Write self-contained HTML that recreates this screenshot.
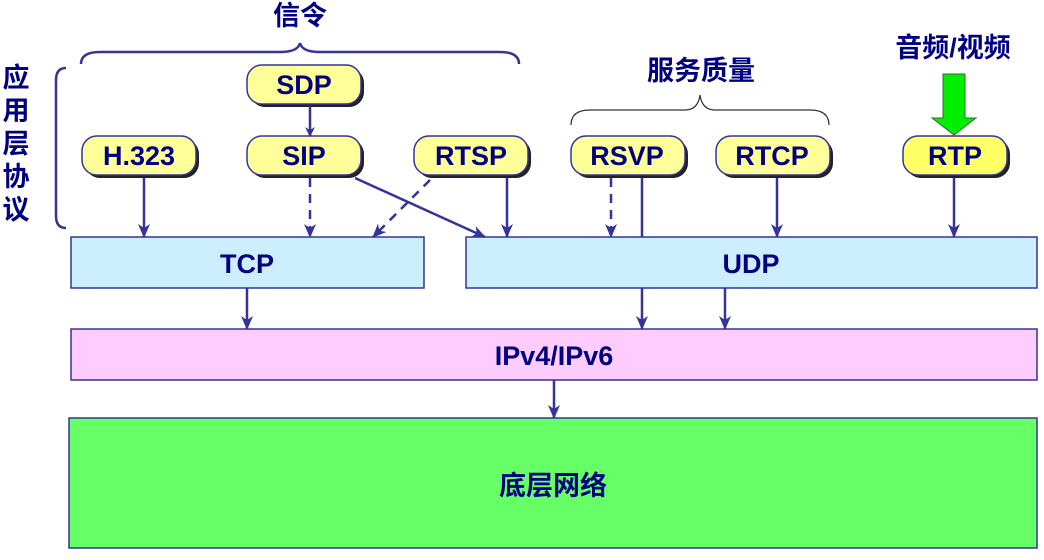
<!DOCTYPE html>
<html><head><meta charset="utf-8"><style>
html,body{margin:0;padding:0;background:#fff}
svg text{font-family:"Liberation Sans","Noto Sans CJK SC",sans-serif;font-weight:bold;fill:#000080}
</style></head><body>
<svg width="1044" height="555" viewBox="0 0 1044 555" xmlns="http://www.w3.org/2000/svg">
<defs>
<marker id="a" markerWidth="10" markerHeight="10" refX="9" refY="5" orient="auto" markerUnits="userSpaceOnUse"><path d="M0,0 L10,5 L0,10 L3,5 z" fill="#333399"/></marker>
<marker id="b" markerWidth="14" markerHeight="14" refX="13" refY="7" orient="auto" markerUnits="userSpaceOnUse"><path d="M0,1 L14,7 L0,13 L4,7 z" fill="#333399"/></marker>
</defs>
<rect x="71" y="237" width="353" height="51" fill="#cceeff" stroke="#333399" stroke-width="1.5"/>
<rect x="466" y="237" width="571" height="51" fill="#cceeff" stroke="#333399" stroke-width="1.5"/>
<rect x="71" y="329" width="966" height="51" fill="#ffccff" stroke="#333399" stroke-width="1.5"/>
<rect x="69" y="418" width="968" height="130" fill="#66ff66" stroke="#333399" stroke-width="1.5"/>
<g font-size="27" text-anchor="middle">
<text x="247" y="273">TCP</text>
<text x="751" y="273">UDP</text>
<text x="554" y="365">IPv4/IPv6</text>
<text x="553" y="495">底层网络</text>
</g>
<g stroke="#333399" stroke-width="1.5">
<rect x="250" y="68" width="114" height="39" rx="15" fill="#222" stroke="none"/>
<rect x="247" y="65" width="114" height="39" rx="15" fill="#ffff99"/>
<rect x="85" y="139" width="114" height="39" rx="15" fill="#222" stroke="none"/>
<rect x="82" y="136" width="114" height="39" rx="15" fill="#ffff99"/>
<rect x="250" y="139" width="114" height="39" rx="15" fill="#222" stroke="none"/>
<rect x="247" y="136" width="114" height="39" rx="15" fill="#ffff99"/>
<rect x="417" y="139" width="114" height="39" rx="15" fill="#222" stroke="none"/>
<rect x="414" y="136" width="114" height="39" rx="15" fill="#ffff99"/>
<rect x="574" y="139" width="114" height="39" rx="15" fill="#222" stroke="none"/>
<rect x="571" y="136" width="114" height="39" rx="15" fill="#ffff99"/>
<rect x="719" y="139" width="114" height="39" rx="15" fill="#222" stroke="none"/>
<rect x="716" y="136" width="114" height="39" rx="15" fill="#ffff99"/>
<rect x="906" y="139" width="104" height="39" rx="15" fill="#222" stroke="none"/>
<rect x="903" y="136" width="104" height="39" rx="15" fill="#ffff66"/>
</g>
<g font-size="27" text-anchor="middle">
<text x="304" y="94">SDP</text>
<text x="139" y="165">H.323</text>
<text x="304" y="165">SIP</text>
<text x="471" y="165">RTSP</text>
<text x="627" y="165">RSVP</text>
<text x="772" y="165">RTCP</text>
<text x="955" y="165">RTP</text>
</g>
<g stroke="#333399" stroke-width="2.5" fill="none">
<line x1="310" y1="106" x2="310" y2="136" marker-end="url(#a)"/>
<line x1="144" y1="178" x2="144" y2="237" marker-end="url(#b)"/>
<line x1="310" y1="178" x2="310" y2="237" stroke-dasharray="9,7" marker-end="url(#b)"/>
<line x1="355" y1="178" x2="485" y2="237" marker-end="url(#b)"/>
<line x1="430" y1="180" x2="373" y2="237" stroke-dasharray="9,7" marker-end="url(#b)"/>
<line x1="507" y1="178" x2="507" y2="237" marker-end="url(#b)"/>
<line x1="611" y1="178" x2="611" y2="237" stroke-dasharray="9,7" marker-end="url(#b)"/>
<line x1="642" y1="178" x2="642" y2="237"/>
<line x1="777" y1="178" x2="777" y2="237" marker-end="url(#b)"/>
<line x1="954" y1="178" x2="954" y2="237" marker-end="url(#b)"/>
<line x1="247" y1="288" x2="247" y2="329" marker-end="url(#b)"/>
<line x1="642" y1="288" x2="642" y2="329" marker-end="url(#b)"/>
<line x1="725" y1="288" x2="725" y2="329" marker-end="url(#b)"/>
<line x1="554" y1="380" x2="554" y2="418" marker-end="url(#b)"/>
</g>
<path d="M943,74 H965 V118 H976 L954,135 L932,118 H943 Z" fill="#00ee00" stroke="#336633" stroke-width="1"/>
<path d="M81,64 Q81,52 100,52 L280,52 Q298,52 300,43 Q302,52 320,52 L500,52 Q519,52 519,64" fill="none" stroke="#333399" stroke-width="2.5"/>
<path d="M66,68 Q56,68 56,80 L56,216 Q56,228 66,228" fill="none" stroke="#333399" stroke-width="2.5"/>
<path d="M571,125 Q571,110 590,110 L685,110 Q698,110 700,95 Q702,110 715,110 L810,110 Q829,110 829,125" fill="none" stroke="#333" stroke-width="1.2"/>
<g font-size="27" text-anchor="middle">
<text x="300" y="25">信令</text>
<text x="701" y="80">服务质量</text>
<text x="953" y="57">音频/视频</text>
<text x="16" y="87">应</text>
<text x="16" y="120">用</text>
<text x="16" y="153">层</text>
<text x="16" y="186">协</text>
<text x="16" y="219">议</text>
</g>
</svg>
</body></html>
